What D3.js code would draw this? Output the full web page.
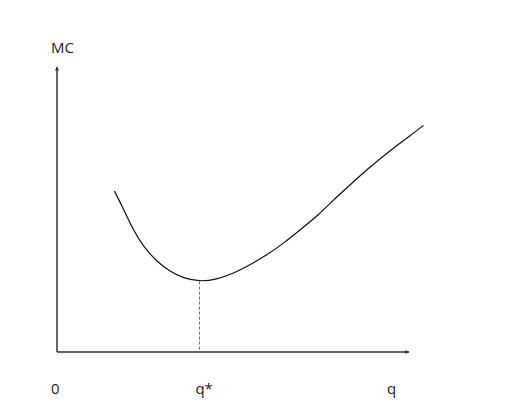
<!DOCTYPE html>
<html>
<head>
<meta charset="utf-8">
<script src="https://cdn.jsdelivr.net/npm/d3@7"></script>
<style>
  html, body { margin: 0; padding: 0; background: #fff; }
  svg { display: block; }
  text { font-family: "Open Sans", "Noto Sans", sans-serif; font-size: 15px; fill: #222; }
</style>
</head>
<body>
<svg id="chart" width="509" height="406"></svg>
<script>
// Marginal cost curve (q, MC)
const qValues  = [1.64, 1.89, 2.18, 2.47, 2.85, 3.23, 3.61, 4.07, 4.56, 5.04, 5.51, 5.99, 6.47, 6.94, 7.47, 7.80, 8.37, 8.94, 9.51, 10.09, 10.47];
const mcValues = [5.65, 5.04, 4.28, 3.70, 3.17, 2.82, 2.59, 2.47, 2.54, 2.76, 3.05, 3.40, 3.81, 4.28, 4.81, 5.22, 5.86, 6.49, 7.06, 7.59, 7.95];
const qStar = 4.07;
const mcMin = 2.47;
const axisLabels = { y: "MC", origin: "0", qStar: "q*", x: "q" };

const svg = d3.select("#chart");
const x = d3.scaleLinear().domain([0, 10]).range([57, 407]);
const y = d3.scaleLinear().domain([0, 10]).range([352, 67]);

// arrow marker
const defs = svg.append("defs");
defs.append("marker")
  .attr("id", "arrow")
  .attr("viewBox", "0 0 10 10")
  .attr("refX", 9).attr("refY", 5)
  .attr("markerWidth", 5).attr("markerHeight", 4)
  .attr("markerUnits", "userSpaceOnUse")
  .attr("orient", "auto")
  .append("path").attr("d", "M0,0 L10,5 L0,10 Z").attr("fill", "#333");

// axes
svg.append("line")
  .attr("x1", x(0)).attr("y1", y(0))
  .attr("x2", x(0)).attr("y2", y(10))
  .attr("stroke", "#333").attr("stroke-width", 1.5)
  .attr("marker-end", "url(#arrow)");
svg.append("line")
  .attr("x1", x(0)).attr("y1", y(0))
  .attr("x2", x(10) + 2).attr("y2", y(0))
  .attr("stroke", "#333").attr("stroke-width", 1.5)
  .attr("marker-end", "url(#arrow)");

// dashed line at q*
svg.append("line")
  .attr("x1", x(qStar)).attr("y1", y(mcMin))
  .attr("x2", x(qStar)).attr("y2", y(0))
  .attr("stroke", "#444").attr("stroke-width", 0.8)
  .attr("stroke-dasharray", "3,2");

// curve
const pts = qValues.map((q, i) => [q, mcValues[i]]);
const line = d3.line().x(d => x(d[0])).y(d => y(d[1])).curve(d3.curveBasis);
svg.append("path")
  .attr("d", line(pts))
  .attr("fill", "none")
  .attr("stroke", "#111")
  .attr("stroke-width", 1.2);

// labels
svg.append("text").attr("x", 51).attr("y", 53).text(axisLabels.y);
svg.append("text").attr("x", 51).attr("y", 394).text(axisLabels.origin);
svg.append("text").attr("x", x(qStar) - 4).attr("y", 394).text(axisLabels.qStar);
svg.append("text").attr("x", 387).attr("y", 394).text(axisLabels.x);
</script>
</body>
</html>
